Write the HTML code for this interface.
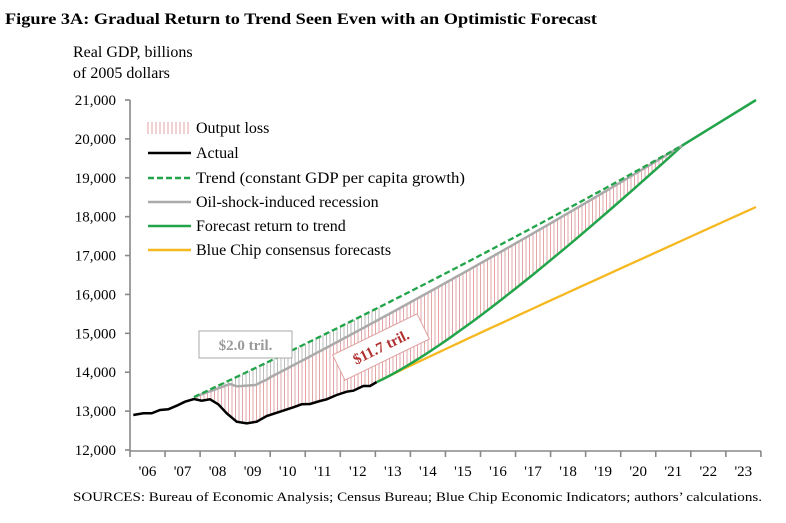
<!DOCTYPE html>
<html><head><meta charset="utf-8"><style>
body{margin:0;background:#fff;width:786px;height:518px;overflow:hidden}
svg{font-family:"Liberation Serif",serif}
</style></head><body>
<svg id="s" width="786" height="518" xmlns="http://www.w3.org/2000/svg">
<text x="5" y="24" font-size="15.5" font-weight="bold" textLength="592" lengthAdjust="spacingAndGlyphs">Figure 3A: Gradual Return to Trend Seen Even with an Optimistic Forecast</text>
<text x="73" y="57" font-size="16">Real GDP, billions</text>
<text x="73" y="78" font-size="16">of 2005 dollars</text>
<g id="hatch"></g>
<g id="axes" stroke="#888" stroke-width="1.6"></g>
<g id="lab" font-size="15" text-anchor="end"></g>
<g id="xl" font-size="15" text-anchor="middle"></g>
<g id="lines" fill="none"></g>
<g font-size="16">
<g stroke="#e0a0a0" stroke-width="1">
<line x1="148" y1="122" x2="148" y2="134"/><line x1="152" y1="122" x2="152" y2="134"/><line x1="156" y1="122" x2="156" y2="134"/><line x1="160" y1="122" x2="160" y2="134"/><line x1="164" y1="122" x2="164" y2="134"/><line x1="168" y1="122" x2="168" y2="134"/><line x1="172" y1="122" x2="172" y2="134"/><line x1="176" y1="122" x2="176" y2="134"/><line x1="180" y1="122" x2="180" y2="134"/><line x1="184" y1="122" x2="184" y2="134"/><line x1="188" y1="122" x2="188" y2="134"/></g>
<line x1="148" y1="153" x2="191" y2="153" stroke="#000" stroke-width="2.5"/>
<line x1="148" y1="178" x2="191" y2="178" stroke="#22a44a" stroke-width="2.5" stroke-dasharray="6,3"/>
<line x1="148" y1="202" x2="191" y2="202" stroke="#aaa" stroke-width="2.5"/>
<line x1="148" y1="226" x2="191" y2="226" stroke="#22a44a" stroke-width="2.5"/>
<line x1="148" y1="250" x2="191" y2="250" stroke="#f5b820" stroke-width="2.5"/>
<text x="196" y="133">Output loss</text>
<text x="196" y="158">Actual</text>
<text x="196" y="183" textLength="269" lengthAdjust="spacingAndGlyphs">Trend (constant GDP per capita growth)</text>
<text x="196" y="207">Oil-shock-induced recession</text>
<text x="196" y="231">Forecast return to trend</text>
<text x="196" y="255">Blue Chip consensus forecasts</text>
</g>
<rect x="199" y="331" width="93" height="27" fill="#fff" stroke="#aaa"/>
<text x="245.5" y="350" font-size="15" font-weight="bold" fill="#999" text-anchor="middle">$2.0 tril.</text>
<g transform="translate(381,347) rotate(-26)">
<rect x="-47" y="-14" width="94" height="28" fill="#fff" stroke="#e0a0a0"/>
<text x="0" y="5" font-size="15" font-weight="bold" fill="#b03030" text-anchor="middle">$11.7 tril.</text>
</g>
<text x="73" y="501" font-size="13" textLength="689" lengthAdjust="spacingAndGlyphs">SOURCES: Bureau of Economic Analysis; Census Bureau; Blue Chip Economic Indicators; authors’ calculations.</text>
</svg>
<script>
var NS="http://www.w3.org/2000/svg";
function el(p,t,a){var e=document.createElementNS(NS,t);for(var k in a)e.setAttribute(k,a[k]);document.getElementById(p).appendChild(e);return e;}
function interp(pts,x){for(var i=0;i<pts.length-1;i++){if(x>=pts[i][0]&&x<=pts[i+1][0]){var t=(x-pts[i][0])/(pts[i+1][0]-pts[i][0]);return pts[i][1]+t*(pts[i+1][1]-pts[i][1]);}}return null;}
function pstr(p){return p.map(function(q){return q[0].toFixed(1)+","+q[1].toFixed(1)}).join(" ");}
var z=[[40,315],[70,310],[95,310],[120,300],[145,298],[170,287],[195,275],[222,267],[245,272],[270,268],[295,283],[320,310],[350,335],[380,340],[410,335],[440,318],[480,305],[520,292],[545,283],[570,282],[600,273],[620,268],[650,255],[680,245],[700,242],[730,228],[750,228],[770,216]];
var act=z.map(function(q){return [120+q[0]/3,310+q[1]/3]});
var trend=[];for(var x=194;x<=684;x+=2){var t=(x-194)/489;var lin=397-252*t;trend.push([x,lin+24*t*(1-t)]);}
var gray=[];for(var x=194;x<=684;x+=2){var ty=interp(trend,x);var off;
 if(x<230)off=(x-194)/36*4;else if(x<238)off=4+(x-230)*0.8;else if(x<257)off=10+(x-238)*0.4;else off=Math.max(0,17*(684-x)/427);
 if(x>=257&&x<270)off=Math.max(off,17);gray.push([x,ty+off]);}
var fc=[[377,382]];for(var i=1;i<=40;i++){var t=i/40;var x=(1-t)*(1-t)*377+2*t*(1-t)*470+t*t*683;var y=(1-t)*(1-t)*382+2*t*(1-t)*338+t*t*145;fc.push([x,y]);}fc.push([756,100]);
var bc=[];for(var i=0;i<=40;i++){var t=i/40;var x=(1-t)*(1-t)*377+2*t*(1-t)*440+t*t*756;var y=(1-t)*(1-t)*382+2*t*(1-t)*350+t*t*207;bc.push([x,y]);}
var lower=act.concat(fc.slice(1));
for(var x=197;x<=682;x+=3.5){var ty=interp(trend,x),gy=interp(gray,x),ly=interp(lower,x);if(ty==null||ly==null)continue;
 el("hatch","line",{x1:x,x2:x,y1:gy,y2:ly,stroke:"#e3a5a5","stroke-width":1});
 if(gy-ty>1.5&&x<380)el("hatch","line",{x1:x,x2:x,y1:ty,y2:gy,stroke:"#bbb","stroke-width":1});}
el("axes","line",{x1:130,y1:100,x2:130,y2:451});el("axes","line",{x1:130,y1:451,x2:761,y2:451});
for(var i=0;i<=9;i++){var y=450-i*38.89;el("axes","line",{x1:125,y1:y,x2:130,y2:y});var t=el("lab","text",{x:116,y:y+5});t.textContent=(12+i)+",000";}
for(var k=0;k<=18;k++){var x=130+k*35.05;el("axes","line",{x1:x,y1:451,x2:x,y2:457});if(k<18){var t=el("xl","text",{x:x+17.5,y:476});t.textContent="'"+String(6+k).padStart(2,"0");}}
el("lines","polyline",{points:pstr(bc),stroke:"#f5b820","stroke-width":2.3});
el("lines","polyline",{points:pstr(fc),stroke:"#22a44a","stroke-width":2.5});
el("lines","polyline",{points:pstr(gray),stroke:"#aaa","stroke-width":2.5});
el("lines","polyline",{points:pstr(trend),stroke:"#22a44a","stroke-width":2.3,"stroke-dasharray":"6,3"});
el("lines","polyline",{points:pstr(act),stroke:"#000","stroke-width":2.5});
</script>
</body></html>
